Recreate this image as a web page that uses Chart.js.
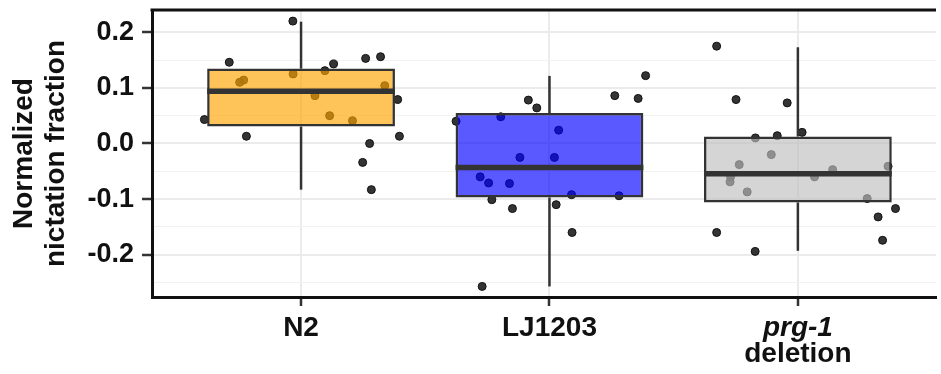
<!DOCTYPE html>
<html>
<head>
<meta charset="utf-8">
<script src="https://cdn.jsdelivr.net/npm/chart.js@4.4.1/dist/chart.umd.min.js"></script>
<style>
  body { margin: 0; background: #fff; }
  canvas { display: block; }
</style>
</head>
<body>
<canvas id="nictationChart" width="941" height="374"></canvas>
<script>
// strains on the x axis (label lines, second line optional)
const strains = [['N2'], ['LJ1203'], ['prg-1', 'deletion']];
const strainPos = [1, 2, 3];

// box statistics
const whiskerLow = [-0.083, -0.257, -0.193];
const q1 = [0.0305, -0.097, -0.106];
const median = [0.0937, -0.0433, -0.0544];
const q3 = [0.1346, 0.0546, 0.0126];
const whiskerHigh = [0.219, 0.1215, 0.173];

// individual worms (x = jittered position, y = value)
const n2X = [0.967, 0.711, 1.131, 1.26, 1.32, 1.096, 0.968, 0.769, 0.753, 1.337, 1.389, 1.056, 0.611, 1.115, 1.207, 0.78, 1.396, 1.276, 1.248, 1.283];
const n2Y = [0.220, 0.146, 0.143, 0.153, 0.156, 0.131, 0.125, 0.114, 0.110, 0.104, 0.079, 0.086, 0.043, 0.050, 0.041, 0.013, 0.013, 0.000, -0.034, -0.083];
const ljX = [2.387, 2.263, 2.357, 1.915, 1.949, 1.624, 1.804, 2.037, 1.881, 2.02, 1.721, 1.755, 1.839, 2.089, 2.28, 1.768, 1.851, 2.027, 2.091, 1.729];
const ljY = [0.122, 0.086, 0.081, 0.078, 0.064, 0.040, 0.048, 0.024, -0.025, -0.025, -0.060, -0.071, -0.072, -0.092, -0.094, -0.101, -0.117, -0.110, -0.160, -0.257];
const prgX = [2.673, 2.751, 2.957, 3.017, 2.917, 2.829, 2.893, 2.764, 3.363, 3.14, 2.729, 2.727, 3.067, 2.796, 3.279, 3.393, 3.323, 2.673, 3.341, 2.828];
const prgY = [0.175, 0.079, 0.073, 0.020, 0.014, 0.010, -0.020, -0.038, -0.041, -0.047, -0.060, -0.069, -0.060, -0.087, -0.099, -0.117, -0.132, -0.160, -0.174, -0.194];

// y ticks: labelled majors and unlabelled minors
const yMajor = [-0.2, -0.1, 0, 0.1, 0.2];
const yMajorLabels = ['-0.2', '-0.1', '0.0', '0.1', '0.2'];
const yMinor = [-0.25, -0.15, -0.05, 0.05, 0.15];

const boxFill = ['rgba(255,165,0,0.65)', 'rgba(0,0,255,0.65)', 'rgba(190,190,190,0.65)'];
const FONT = "'Liberation Sans', Arial, Helvetica, sans-serif";
const HALF_BOX = 0.378;

const isMajor = v => yMajor.some(m => Math.abs(m - v) < 1e-6);

const pointStyle = {
  type: 'scatter',
  pointRadius: 4,
  pointHoverRadius: 4,
  backgroundColor: 'rgba(30,30,30,0.9)',
  borderColor: '#111',
  borderWidth: 1,
  order: 3
};

const toPts = (xs, ys) => xs.map((x, i) => ({ x: x, y: ys[i] }));

const datasets = [
  Object.assign({ label: 'N2', data: toPts(n2X, n2Y) }, pointStyle),
  Object.assign({ label: 'LJ1203', data: toPts(ljX, ljY) }, pointStyle),
  Object.assign({ label: 'prg-1 deletion', data: toPts(prgX, prgY) }, pointStyle),
  {
    type: 'bar',
    label: 'box',
    data: strainPos.map((x, i) => ({ x: x, y: [q1[i], q3[i]] })),
    backgroundColor: boxFill,
    borderColor: '#333',
    borderWidth: 2.5,
    borderSkipped: false,
    barPercentage: 0.756,
    categoryPercentage: 1,
    order: 1
  }
];

// whiskers and medians as two-point line segments
strainPos.forEach((x, i) => {
  const seg = { type: 'line', borderColor: '#333', pointRadius: 0, borderCapStyle: 'butt', fill: false };
  datasets.push(Object.assign({ label: 'upper', data: [{ x: x, y: q3[i] }, { x: x, y: whiskerHigh[i] }], borderWidth: 2.5, order: 2 }, seg));
  datasets.push(Object.assign({ label: 'lower', data: [{ x: x, y: whiskerLow[i] }, { x: x, y: q1[i] }], borderWidth: 2.5, order: 2 }, seg));
  datasets.push(Object.assign({ label: 'median', data: [{ x: x - HALF_BOX, y: median[i] }, { x: x + HALF_BOX, y: median[i] }], borderWidth: 5.5, order: 0 }, seg));
});

// top frame line and x category labels (prg-1 in italics)
const framePlugin = {
  id: 'frame',
  afterDraw(chart) {
    const { ctx, chartArea, scales } = chart;
    ctx.save();
    ctx.strokeStyle = '#111';
    ctx.lineWidth = 3;
    ctx.beginPath();
    ctx.moveTo(chartArea.left - 1.5, chartArea.top);
    ctx.lineTo(chartArea.right, chartArea.top);
    ctx.stroke();

    ctx.fillStyle = '#111';
    ctx.textAlign = 'center';
    ctx.textBaseline = 'middle';
    strains.forEach((lines, i) => {
      const px = scales.x.getPixelForValue(strainPos[i]);
      lines.forEach((txt, j) => {
        const italic = txt === 'prg-1';
        ctx.font = (italic ? 'italic ' : '') + 'bold 28px ' + FONT;
        ctx.fillText(txt, px, 328 + j * 26);
      });
    });
    ctx.restore();
  }
};

new Chart(document.getElementById('nictationChart'), {
  type: 'scatter',
  data: { datasets: datasets },
  options: {
    responsive: false,
    animation: false,
    layout: { padding: { top: 10, right: 0, left: 0, bottom: 0 } },
    plugins: { legend: { display: false }, tooltip: { enabled: false } },
    scales: {
      x: {
        type: 'linear',
        min: 0.4,
        max: 3.556,
        offset: false,
        afterBuildTicks: s => { s.ticks = strainPos.map(v => ({ value: v })); },
        afterFit: s => { s.height = 77; s.paddingLeft = 0; s.paddingRight = 0; },
        ticks: { display: false },
        grid: { offset: false, color: '#EBEBEB', lineWidth: 2, tickColor: '#333', tickLength: 9, tickWidth: 2.5 },
        border: { color: '#111', width: 3 }
      },
      y: {
        min: -0.276,
        max: 0.240,
        afterBuildTicks: s => { s.ticks = yMinor.concat(yMajor).sort((a, b) => a - b).map(v => ({ value: v })); },
        afterFit: s => { s.width = 152; s.paddingTop = 0; s.paddingBottom = 0; },
        ticks: {
          autoSkip: false,
          padding: 8,
          color: '#111',
          font: { family: FONT, size: 27, weight: 'bold' },
          callback: v => {
            const k = yMajor.findIndex(m => Math.abs(m - v) < 1e-6);
            return k >= 0 ? yMajorLabels[k] : '';
          }
        },
        grid: {
          color: c => isMajor(c.tick.value) ? '#EBEBEB' : '#F2F2F2',
          lineWidth: c => isMajor(c.tick.value) ? 2 : 1,
          tickColor: c => isMajor(c.tick.value) ? '#333' : 'rgba(0,0,0,0)',
          tickLength: 10,
          tickWidth: 2.5
        },
        border: { color: '#111', width: 3 },
        title: {
          display: true,
          text: ['Normalized', 'nictation fraction'],
          color: '#111',
          font: { family: FONT, size: 28, weight: 'bold', lineHeight: 1.15 },
          padding: { top: 8, bottom: 0 }
        }
      }
    }
  },
  plugins: [framePlugin]
});
</script>
</body>
</html>
